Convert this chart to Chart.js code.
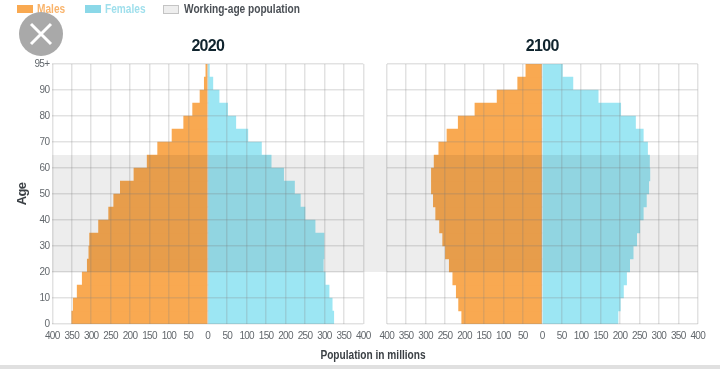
<!DOCTYPE html>
<html>
<head>
<meta charset="utf-8">
<title>Population pyramids 2020 and 2100</title>
<script src="https://cdn.jsdelivr.net/npm/chart.js@4/dist/chart.umd.min.js"></script>
<style>
  html, body { margin: 0; padding: 0; background: #fff; }
  body { position: relative; width: 720px; height: 369px; overflow: hidden; font-family: "Liberation Sans", sans-serif; }
  canvas { position: absolute; top: 0; }
  #chart2020 { left: 0; }
  #chart2100 { left: 363px; }
  .swatch { position: absolute; top: 5px; height: 8px; }
  .legend-text { position: absolute; top: 1px; font-size: 13px; line-height: 16px; font-weight: bold; white-space: nowrap; transform-origin: left center; transform: scaleX(0.78); }
  #xTitle { position: absolute; left: 273px; width: 200px; top: 347px; text-align: center; font-size: 13.5px; line-height: 16px; font-weight: bold; color: #3b4045; transform: scaleX(0.75); white-space: nowrap; }
  #closeBtn { position: absolute; left: 19px; top: 12px; }
  #bottomStrip { position: absolute; left: 0; right: 0; top: 365px; height: 4px; background: #e0e0e0; }
</style>
</head>
<body>
<canvas id="chart2020" width="387" height="369"></canvas>
<canvas id="chart2100" width="357" height="369"></canvas>

<div class="swatch" style="left:17px;width:16px;background:#f9a951"></div>
<div class="legend-text" style="left:37px;color:#f9b46c">Males</div>
<div class="swatch" style="left:85px;width:16px;background:#8bd8e8"></div>
<div class="legend-text" style="left:105px;color:#9fdfec">Females</div>
<div class="swatch" style="left:163px;width:14px;height:7px;background:#eee;border:1px solid #c4c4c4"></div>
<div class="legend-text" style="left:184px;color:#4a4f55">Working-age population</div>

<svg id="closeBtn" width="44" height="44">
  <circle cx="22" cy="22" r="22" fill="#a9a9a9"></circle>
  <path d="M12 12 L32 32 M32 12 L12 32" stroke="#fff" stroke-width="3"></path>
</svg>

<div id="xTitle">Population in millions</div>
<div id="bottomStrip"></div>

<script>
// Midpoint of each five-year age band, youngest first
const ageBands = [2.5, 7.5, 12.5, 17.5, 22.5, 27.5, 32.5, 37.5, 42.5, 47.5, 52.5, 57.5, 62.5, 67.5, 72.5, 77.5, 82.5, 87.5, 92.5, 97.5]

const males2020 = [350, 346, 336, 323, 310, 306, 304, 281, 255, 242, 225, 190, 156, 129, 92, 62, 39, 20, 9, 5]
const females2020 = [324, 320, 312, 302, 297, 299, 299, 276, 250, 238, 223, 195, 163, 138, 103, 72, 51, 29, 13, 4]
const males2100 = [207, 215, 221, 230, 239, 249, 256, 264, 274, 280, 285, 285, 278, 266, 245, 216, 173, 116, 63, 42]
const females2100 = [195, 201, 209, 217, 225, 234, 243, 251, 260, 268, 274, 277, 276, 271, 260, 240, 202, 144, 79, 52]

const workingAge = [20, 65]
const topAgeLabel = "95+"

const MALE_COLOR = "#f9a951"
const FEMALE_COLOR = "#9ce6f3"
const GRID_COLOR = "rgba(130, 130, 130, 0.23)"
const TICK_COLOR = "#63686d"
const TICK_FONT = { family: "'Liberation Sans', sans-serif", size: 10 }

document.addEventListener("DOMContentLoaded", () => {
  createPyramid("chart2020", "2020", males2020, females2020, true)
  createPyramid("chart2100", "2100", males2100, females2100, false)
})

/**
 * The reference uses a condensed face, so tighten the canvas text a little
 */
const tightText = {
  id: "tightText",
  beforeDraw(chart) {
    chart.ctx.letterSpacing = "-0.7px"
  },
}

/**
 * Grey working-age band, laid over the bars so that they darken under it
 */
const workingAgeBand = {
  id: "workingAgeBand",
  afterDraw(chart, args, opts) {
    const { ctx, chartArea, scales } = chart
    const top = scales.y.getPixelForValue(workingAge[1])
    const bottom = scales.y.getPixelForValue(workingAge[0])
    ctx.save()
    ctx.fillStyle = "rgba(0, 0, 0, 0.07)"
    ctx.fillRect(chartArea.left, top, chartArea.right - chartArea.left + opts.extendRight, bottom - top)
    ctx.restore()
  },
}

function toPoints(values, sign) {
  return values.map((value, i) => ({ x: sign * value, y: ageBands[i] }))
}

function createPyramid(canvasId, year, males, females, isLeft) {
  new Chart(document.getElementById(canvasId), {
    type: "bar",
    data: {
      datasets: [
        { label: "Males", data: toPoints(males, -1), backgroundColor: MALE_COLOR, borderWidth: 0 },
        { label: "Females", data: toPoints(females, 1), backgroundColor: FEMALE_COLOR, borderWidth: 0 },
      ],
    },
    plugins: [tightText, workingAgeBand],
    options: {
      indexAxis: "y",
      responsive: false,
      animation: false,
      categoryPercentage: 1,
      barPercentage: 1,
      layout: {
        padding: isLeft ? { right: 23.7, bottom: 20 } : { left: 23.7, right: 22.3, bottom: 20 },
      },
      plugins: {
        legend: { display: false },
        tooltip: { enabled: false },
        workingAgeBand: { extendRight: isLeft ? 23.7 : 0 },
        title: {
          display: true,
          text: year,
          fullSize: false,
          color: "#10242e",
          font: { family: "'Liberation Sans', sans-serif", size: 16, weight: "bold" },
          padding: { top: 37, bottom: 7.8 },
        },
      },
      scales: {
        x: {
          type: "linear",
          stacked: true,
          min: -400,
          max: 400,
          afterFit(scale) {
            scale.height = 25
          },
          grid: { color: GRID_COLOR, lineWidth: 1.5, z: 1, drawTicks: false },
          border: { display: false },
          ticks: {
            stepSize: 50,
            autoSkip: false,
            maxRotation: 0,
            color: TICK_COLOR,
            font: TICK_FONT,
            padding: 6,
            callback: (value) => Math.abs(value),
          },
        },
        y: {
          type: "linear",
          stacked: true,
          offset: false,
          min: 0,
          max: 100,
          afterFit(scale) {
            scale.width = isLeft ? 52.3 : 0
          },
          grid: { offset: false, color: GRID_COLOR, lineWidth: 1.5, z: 1, drawTicks: false },
          border: { display: false },
          title: {
            display: isLeft,
            text: "Age",
            color: "#3b4045",
            font: { family: TICK_FONT.family, size: 13, weight: "bold" },
            padding: { top: 15, bottom: 0 },
          },
          ticks: {
            display: isLeft,
            stepSize: 10,
            autoSkip: false,
            color: TICK_COLOR,
            font: TICK_FONT,
            padding: 3,
            callback: (value) => (value === 100 ? topAgeLabel : value),
          },
        },
      },
    },
  })
}
</script>
</body>
</html>
